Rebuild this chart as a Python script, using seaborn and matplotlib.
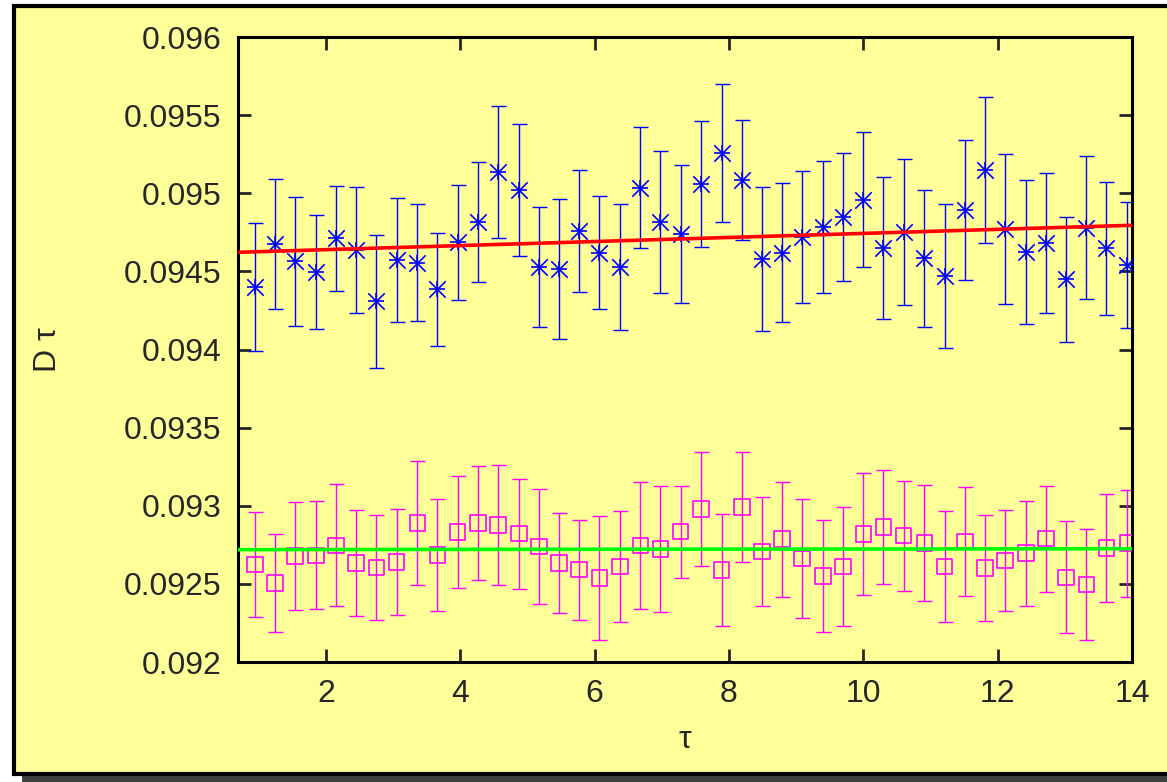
import matplotlib
matplotlib.use("Agg")
import matplotlib.pyplot as plt
from matplotlib.patches import Rectangle
import seaborn as sns
import pandas as pd

# ---------------- data ----------------
tau = [0.94, 1.24, 1.54, 1.85, 2.15, 2.45, 2.75, 3.05, 3.36, 3.66, 3.96,
       4.26, 4.56, 4.87, 5.17, 5.47, 5.77, 6.07, 6.38, 6.68, 6.98, 7.28,
       7.58, 7.89, 8.19, 8.49, 8.79, 9.09, 9.40, 9.70, 10.00, 10.30, 10.60,
       10.91, 11.21, 11.51, 11.81, 12.11, 12.42, 12.72, 13.02, 13.32, 13.62, 13.93]

blue_y = [0.094398, 0.094677, 0.094566, 0.094496, 0.094712, 0.094635, 0.094308,
          0.094575, 0.094556, 0.094385, 0.094686, 0.094816, 0.095138, 0.095021,
          0.094530, 0.094517, 0.094761, 0.094620, 0.094528, 0.095036, 0.094814,
          0.094739, 0.095057, 0.095258, 0.095087, 0.094581, 0.094620, 0.094722,
          0.094786, 0.094848, 0.094959, 0.094652, 0.094752, 0.094583, 0.094473,
          0.094893, 0.095149, 0.094771, 0.094624, 0.094679, 0.094451, 0.094780,
          0.094647, 0.094539]
blue_err = [0.000409, 0.000417, 0.000413, 0.000365, 0.000335, 0.000402, 0.000428,
            0.000396, 0.000374, 0.000362, 0.000367, 0.000387, 0.000423, 0.000420,
            0.000384, 0.000448, 0.000390, 0.000361, 0.000405, 0.000387, 0.000454,
            0.000442, 0.000403, 0.000439, 0.000385, 0.000461, 0.000444, 0.000423,
            0.000422, 0.000409, 0.000430, 0.000454, 0.000470, 0.000438, 0.000461,
            0.000448, 0.000468, 0.000479, 0.000463, 0.000448, 0.000400, 0.000457,
            0.000425, 0.000403]

mag_y = [0.092623, 0.092506, 0.092678, 0.092683, 0.092747, 0.092634, 0.092606,
         0.092640, 0.092890, 0.092685, 0.092832, 0.092890, 0.092877, 0.092821,
         0.092738, 0.092634, 0.092591, 0.092538, 0.092610, 0.092745, 0.092723,
         0.092834, 0.092979, 0.092589, 0.092992, 0.092706, 0.092787, 0.092661,
         0.092550, 0.092610, 0.092819, 0.092864, 0.092809, 0.092762, 0.092610,
         0.092770, 0.092602, 0.092651, 0.092696, 0.092789, 0.092542, 0.092495,
         0.092730, 0.092760]
mag_err = [0.000336, 0.000316, 0.000348, 0.000346, 0.000391, 0.000342, 0.000335,
           0.000337, 0.000396, 0.000358, 0.000356, 0.000367, 0.000381, 0.000352,
           0.000369, 0.000321, 0.000320, 0.000396, 0.000356, 0.000407, 0.000404,
           0.000294, 0.000365, 0.000357, 0.000353, 0.000347, 0.000368, 0.000381,
           0.000358, 0.000381, 0.000391, 0.000367, 0.000352, 0.000373, 0.000356,
           0.000347, 0.000339, 0.000324, 0.000335, 0.000340, 0.000359, 0.000354,
           0.000348, 0.000342]

fit_x = [0.69, 14.0]
fit_red = [0.094622, 0.094795]
fit_green = [0.092719, 0.092725]

x_ticks = [2, 4, 6, 8, 10, 12, 14]
y_ticks = [0.092, 0.0925, 0.093, 0.0935, 0.094, 0.0945, 0.095, 0.0955, 0.096]
y_tick_labels = ["0.092", "0.0925", "0.093", "0.0935", "0.094",
                 "0.0945", "0.095", "0.0955", "0.096"]

blue_df = pd.DataFrame({"tau": tau, "D": blue_y})
mag_df = pd.DataFrame({"tau": tau, "D": mag_y})
fit_df = pd.DataFrame({"tau": fit_x, "red": fit_red, "green": fit_green})

# ---------------- style ----------------
sns.set_style("ticks")
plt.rcParams["font.family"] = ["Liberation Sans", "DejaVu Sans"]

YELLOW = "#ffff99"
W, H = 1167, 782
fig = plt.figure(figsize=(W / 100, H / 100), dpi=100, facecolor="white")

# shadow + framed yellow panel
shadow = Rectangle((22 / W, -0.05), 1.1, 1 - 6 / H - 10 / H + 0.05,
                   transform=fig.transFigure, facecolor="#404040",
                   edgecolor="none", zorder=-3)
panel = Rectangle((14 / W, 1 - 774 / H), 1.1, (774 - 6) / H,
                  transform=fig.transFigure, facecolor=YELLOW,
                  edgecolor="black", linewidth=3, zorder=-2)
fig.patches.extend([shadow, panel])

ax = fig.add_axes([238 / W, 1 - 662 / H, (1132 - 238) / W, (662 - 37) / H])
ax.set_facecolor(YELLOW)

# error bars
ax.errorbar(tau, blue_y, yerr=blue_err, fmt="none", ecolor="#0000ff",
            elinewidth=1.0, capsize=5.4, capthick=1.0, zorder=2)
ax.errorbar(tau, mag_y, yerr=mag_err, fmt="none", ecolor="#ff00ff",
            elinewidth=1.0, capsize=5.4, capthick=1.0, zorder=2)

# markers
sns.scatterplot(data=blue_df, x="tau", y="D", marker="+", s=140,
                color="#0000ff", linewidth=1.2, ax=ax, zorder=3)
sns.scatterplot(data=blue_df, x="tau", y="D", marker="x", s=140,
                color="#0000ff", linewidth=1.2, ax=ax, zorder=3)
sns.scatterplot(data=mag_df, x="tau", y="D", marker="s", s=125,
                facecolor="none", edgecolor="#ff00ff", linewidth=1.2,
                ax=ax, zorder=3)

# fit lines
sns.lineplot(data=fit_df, x="tau", y="red", color="#ff0000", linewidth=2.6,
             ax=ax, zorder=4)
sns.lineplot(data=fit_df, x="tau", y="green", color="#00ff00", linewidth=2.6,
             ax=ax, zorder=4)

ax.set_xlim(0.69, 14.0)
ax.set_ylim(0.092, 0.096)
ax.set_xticks(x_ticks)
ax.set_xticklabels([str(t) for t in x_ticks])
ax.set_yticks(y_ticks)
ax.set_yticklabels(y_tick_labels)

for s in ax.spines.values():
    s.set_linewidth(2.2)
    s.set_color("black")
    s.set_visible(True)
ax.tick_params(axis="both", direction="in", length=9.5, width=2.0,
               labelsize=23, top=True, right=True, pad=12)

ax.set_xlabel("τ", fontsize=23, labelpad=12)
ax.set_ylabel("D τ", fontsize=23, labelpad=44)

fig.savefig("out.png", dpi=100, facecolor="white")
